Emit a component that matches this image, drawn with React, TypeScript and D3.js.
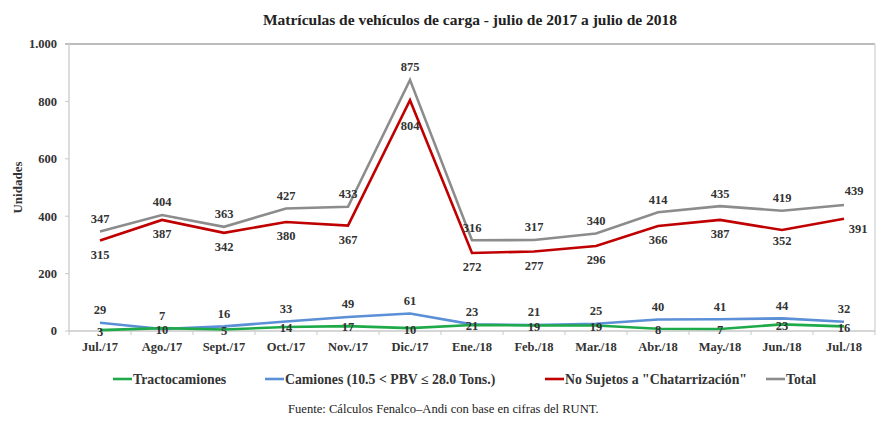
import * as d3 from "d3";

const months = ["Jul./17", "Ago./17", "Sept./17", "Oct./17", "Nov./17", "Dic./17", "Ene./18", "Feb./18", "Mar./18", "Abr./18", "May./18", "Jun./18", "Jul./18"];
const tracto = [3, 10, 5, 14, 17, 10, 21, 19, 19, 8, 7, 23, 16];
const camiones = [29, 7, 16, 33, 49, 61, 23, 21, 25, 40, 41, 44, 32];
const noSujetos = [315, 387, 342, 380, 367, 804, 272, 277, 296, 366, 387, 352, 391];
const total = [347, 404, 363, 427, 433, 875, 316, 317, 340, 414, 435, 419, 439];
const yTicks = [0, 200, 400, 600, 800, 1000];

const W = 893;
const H = 427;
const m = { left: 69, right: 875, top: 44, bottom: 331 };

// label offsets per series: default + a few exceptions (index -> [dx, dy])
const series = [
  { name: "Tractocamiones", values: tracto, color: "#1faa4a", dy: 1, fix: {} as Record<number, number[]> },
  { name: "Camiones (10.5 < PBV ≤ 28.0 Tons.)", values: camiones, color: "#5b8fd6", dy: -13, fix: {} as Record<number, number[]> },
  { name: "No Sujetos a \"Chatarrización\"", values: noSujetos, color: "#c00000", dy: 14, fix: { 5: [0, 25], 11: [0, 11], 12: [14, 10] } as Record<number, number[]> },
  { name: "Total", values: total, color: "#8c8c8c", dy: -13, fix: { 12: [10, -14] } as Record<number, number[]> },
];

const legendX = [113, 265, 545, 766];
const font = "Liberation Serif";

export default function App() {
  const x = d3.scaleBand<string>().domain(months).range([m.left, m.right]);
  const y = d3.scaleLinear().domain([0, 1000]).range([m.bottom, m.top]);
  const cx = (i: number) => (x(months[i]) as number) + x.bandwidth() / 2;
  const line = d3.line<number>().x((_, i) => cx(i)).y((v) => y(v));
  const fmt = (v: number) => d3.format(",")(v).replace(/,/g, ".");

  return (
    <div style={{ position: "absolute", left: 0, top: 0 }}>
      <svg width={W} height={H} fontFamily={font} style={{ display: "block", background: "#fff" }}>
        <text x={470} y={25} textAnchor="middle" fontSize={15.5} fontWeight="bold" fill="#222" fontFamily={font}>
          Matrículas de vehículos de carga - julio de 2017 a julio de 2018
        </text>

        {/* frame */}
        <line x1={m.left - 4} x2={m.right} y1={y(1000)} y2={y(1000)} stroke="#a6a6a6" strokeWidth={1.5} />
        <line x1={m.right} x2={m.right} y1={m.top} y2={m.bottom} stroke="#d9d9d9" strokeWidth={1.5} />
        <line x1={m.left} x2={m.left} y1={m.top} y2={m.bottom} stroke="#d0d0d0" strokeWidth={1.5} />
        <line x1={m.left} x2={m.right} y1={m.bottom} y2={m.bottom} stroke="#c8c8c8" strokeWidth={1.5} />

        {yTicks.map((t) => (
          <g key={t}>
            <line x1={m.left - 4} x2={m.left} y1={y(t)} y2={y(t)} stroke="#c8c8c8" />
            <text x={57} y={y(t)} dy="0.35em" textAnchor="end" fontSize={12.5} fontWeight="bold" fill="#333" fontFamily={font}>
              {fmt(t)}
            </text>
          </g>
        ))}

        {months.map((mo, i) => (
          <g key={mo}>
            <line x1={x(mo) as number} x2={x(mo) as number} y1={m.bottom} y2={m.bottom + 4} stroke="#c8c8c8" />
            <text x={cx(i)} y={351} textAnchor="middle" fontSize={12.5} fontWeight="bold" fill="#333" fontFamily={font}>
              {mo}
            </text>
          </g>
        ))}
        <line x1={m.right} x2={m.right} y1={m.bottom} y2={m.bottom + 4} stroke="#c8c8c8" />

        <text transform={`translate(22,${(m.top + m.bottom) / 2}) rotate(-90)`} textAnchor="middle" fontSize={13} fontWeight="bold" fill="#333" fontFamily={font}>
          Unidades
        </text>

        {[...series].reverse().map((s) => (
          <path key={s.name} d={line(s.values) as string} fill="none" stroke={s.color} strokeWidth={2.6} strokeLinejoin="miter" />
        ))}

        {series.map((s) =>
          s.values.map((v, i) => {
            const f = s.fix[i] || [0, s.dy];
            return (
              <text key={s.name + i} x={cx(i) + f[0]} y={y(v) + f[1]} dy="0.35em" textAnchor="middle" fontSize={12.5} fontWeight="bold" fill="#333" fontFamily={font}>
                {v}
              </text>
            );
          })
        )}

        {series.map((s, k) => (
          <g key={s.name} transform={`translate(${legendX[k]},379)`}>
            <line x1={0} x2={19} y1={0} y2={0} stroke={s.color} strokeWidth={2.6} />
            <text x={20} y={0} dy="0.35em" fontSize={13.8} fontWeight="bold" fill="#333" fontFamily={font}>
              {s.name}
            </text>
          </g>
        ))}

        <text x={288} y={413} fontSize={12.6} fill="#222" fontFamily={font}>
          Fuente: Cálculos Fenalco–Andi con base en cifras del RUNT.
        </text>
      </svg>
    </div>
  );
}
